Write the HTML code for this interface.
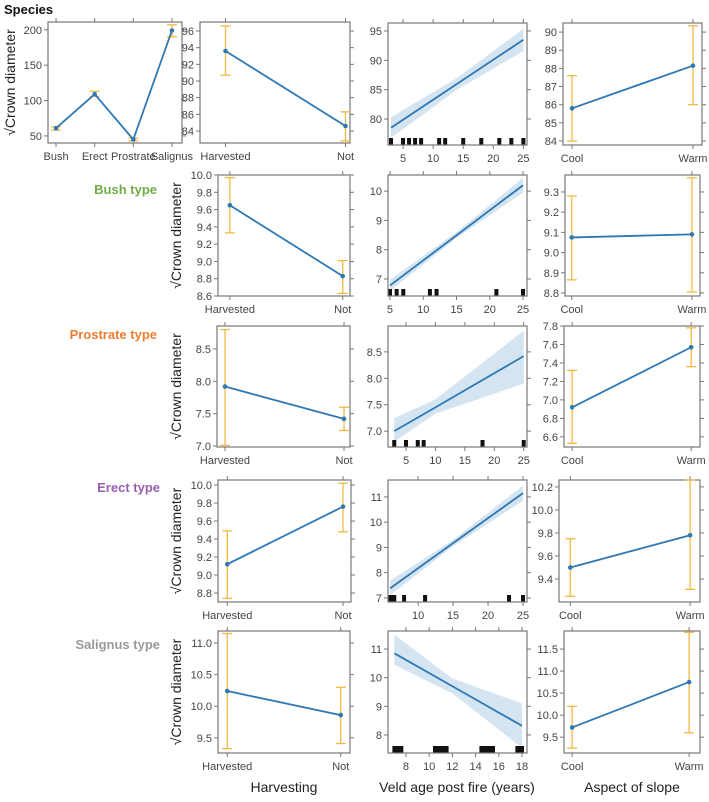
<!DOCTYPE html>
<html><head><meta charset="utf-8">
<style>
body{margin:0;background:#fff;}
svg text{font-family:"Liberation Sans",Arial,sans-serif;}
</style></head>
<body>
<svg id="chart" width="709" height="797" viewBox="0 0 709 797" xmlns="http://www.w3.org/2000/svg">
<text x="4" y="14" font-size="13" font-weight="bold" fill="#111">Species</text>
<text x="157" y="194" font-size="13" font-weight="bold" fill="#70ad47" text-anchor="end">Bush type</text>
<text x="157" y="339" font-size="13" font-weight="bold" fill="#ed7d31" text-anchor="end">Prostrate type</text>
<text x="160" y="492" font-size="13" font-weight="bold" fill="#9b5fb0" text-anchor="end">Erect type</text>
<text x="160" y="649" font-size="13" font-weight="bold" fill="#999" text-anchor="end">Salignus type</text>
<text x="284" y="792" font-size="14" fill="#222" text-anchor="middle">Harvesting</text>
<text x="457" y="792" font-size="14" fill="#222" text-anchor="middle">Veld age post fire (years)</text>
<text x="632" y="792" font-size="14" fill="#222" text-anchor="middle">Aspect of slope</text>
</svg>
<script>
// ---- data ----
const speciesCats = ["Bush","Erect","Prostrate","Salignus"];
const speciesFit = [61,109,45,199];
const speciesLo = [58,106,43,190];
const speciesHi = [63,113,47,207];
const speciesTicks = [50,100,150,200];

const harvCats = ["Harvested","Not"];
const aspectCats = ["Cool","Warm"];

const allHarvFit = [93.6,84.6]; const allHarvLo = [90.7,82.8]; const allHarvHi = [96.6,86.3];
const allHarvTicks = [84,86,88,90,92,94,96];
const allVeldX = [3,14,25]; const allVeldFit = [78.5,86,93.5]; const allVeldLo = [76.8,85,91.6]; const allVeldHi = [80.3,87,95.4];
const allVeldRug = [3,5,6,7,8,11,12,15,18,21,23,25];
const allVeldTicks = [80,85,90,95]; const allVeldXTicks = [5,10,15,20,25];
const allAspFit = [85.8,88.15]; const allAspLo = [84,86]; const allAspHi = [87.6,90.35];
const allAspTicks = [84,85,86,87,88,89,90];

const bushHarvFit = [9.65,8.83]; const bushHarvLo = [9.33,8.63]; const bushHarvHi = [9.97,9.01];
const bushHarvTicks = [8.6,8.8,9.0,9.2,9.4,9.6,9.8,10.0];
const bushVeldX = [5,15,25]; const bushVeldFit = [6.78,8.49,10.2]; const bushVeldLo = [6.6,8.4,9.95]; const bushVeldHi = [6.98,8.6,10.45];
const bushVeldRug = [5,6,7,11,12,21,25];
const bushVeldTicks = [7,8,9,10]; const bushVeldXTicks = [5,10,15,20,25];
const bushAspFit = [9.075,9.09]; const bushAspLo = [8.865,8.805]; const bushAspHi = [9.28,9.37];
const bushAspTicks = [8.8,8.9,9.0,9.1,9.2,9.3];

const prosHarvFit = [7.92,7.42]; const prosHarvLo = [7.01,7.24]; const prosHarvHi = [8.8,7.6];
const prosHarvTicks = [7.0,7.5,8.0,8.5];
const prosVeldX = [3,10,25]; const prosVeldFit = [7.0,7.45,8.42]; const prosVeldLo = [6.8,7.33,7.9]; const prosVeldHi = [7.25,7.6,8.9];
const prosVeldRug = [3,5,7,8,18,25];
const prosVeldTicks = [7.0,7.5,8.0,8.5]; const prosVeldXTicks = [5,10,15,20,25];
const prosAspFit = [6.92,7.57]; const prosAspLo = [6.53,7.36]; const prosAspHi = [7.32,7.78];
const prosAspTicks = [6.6,6.8,7.0,7.2,7.4,7.6,7.8];

const erHarvFit = [9.12,9.76]; const erHarvLo = [8.74,9.48]; const erHarvHi = [9.49,10.02];
const erHarvTicks = [8.8,9.0,9.2,9.4,9.6,9.8,10.0];
const erVeldX = [6,15,25]; const erVeldFit = [7.38,9.17,11.15]; const erVeldLo = [7.1,9.05,10.85]; const erVeldHi = [7.68,9.3,11.45];
const erVeldRug = [6,6.3,6.6,8,11,23,25];
const erVeldTicks = [7,8,9,10,11]; const erVeldXTicks = [10,15,20,25];
const erAspFit = [9.5,9.78]; const erAspLo = [9.25,9.31]; const erAspHi = [9.75,10.26];
const erAspTicks = [9.4,9.6,9.8,10.0,10.2];

const salHarvFit = [10.24,9.86]; const salHarvLo = [9.33,9.41]; const salHarvHi = [11.15,10.3];
const salHarvTicks = [9.5,10.0,10.5,11.0];
const salVeldX = [7,12,18]; const salVeldFit = [10.85,9.70,8.32]; const salVeldLo = [10.45,9.45,7.55]; const salVeldHi = [11.5,9.97,9.1];
const salVeldRug = [7,7.2,7.4,7.6,10.5,10.7,10.9,11.1,11.3,11.5,14.5,14.7,14.9,15.1,15.3,15.5,17.6,17.8,18];
const salVeldTicks = [8,9,10,11]; const salVeldXTicks = [8,10,12,14,16,18];
const salAspFit = [9.72,10.75]; const salAspLo = [9.25,9.6]; const salAspHi = [10.2,11.88];
const salAspTicks = [9.5,10.0,10.5,11.0,11.5];

// ---- drawing ----
const svg = document.getElementById('chart');
const NS = 'http://www.w3.org/2000/svg';
function mk(tag, attrs, parent){
  const e = document.createElementNS(NS, tag);
  for (const k in attrs) e.setAttribute(k, attrs[k]);
  (parent||svg).appendChild(e);
  return e;
}
function fmt(v, dec){ return dec ? v.toFixed(dec) : String(v); }

function frame(g, p, yScale, yTicks, dec){
  const box = mk('rect',{x:p.x0,y:p.y0,width:p.x1-p.x0,height:p.y1-p.y0,fill:'none',stroke:'#777','stroke-width':1.2},g);
  
  
  yTicks.forEach(t=>{
    const y = yScale(t);
    mk('line',{x1:p.x0-4,x2:p.x0,y1:y,y2:y,stroke:'#777'},g);
    mk('line',{x1:p.x1,x2:p.x1+4,y1:y,y2:y,stroke:'#777'},g);
    const tx = mk('text',{x:p.x0-6,y:y+4,'font-size':11,fill:'#444','text-anchor':'end'},g);
    tx.textContent = fmt(t,dec);
    
    
  });
}
function xTicksDraw(g, p, positions, labels){
  positions.forEach((x,i)=>{
    mk('line',{x1:x,x2:x,y1:p.y1,y2:p.y1+4,stroke:'#777'},g);
    mk('line',{x1:x,x2:x,y1:p.y0-4,y2:p.y0,stroke:'#777'},g);
    const tx = mk('text',{x:x,y:p.y1+17,'font-size':11,fill:'#444','text-anchor':'middle'},g);
    tx.textContent = labels[i];
    
    
  });
}
function yLabel(x, p){
  const cy = (p.y0+p.y1)/2;
  const t = mk('text',{x:x,y:cy,'font-size':14,fill:'#222','text-anchor':'middle',transform:`rotate(-90 ${x} ${cy})`});
  t.textContent = '\u221ACrown diameter';
  
  
}

function factorPanel(name, p, cats, fit, lo, hi, ticks, dec, ymin, ymax, padL, padR){
  const g = mk('g',{});
  
  
  const w = p.x1-p.x0, n = cats.length;
  const xs = i => p.x0 + w*(padL + (1-padL-padR)*i/(n-1));
  const ys = v => p.y1 - (v-ymin)/(ymax-ymin)*(p.y1-p.y0);
  frame(g,p,ys,ticks,dec);
  xTicksDraw(g,p,cats.map((c,i)=>xs(i)),cats);
  cats.forEach((c,i)=>{
    const x = xs(i);
    const eb = mk('g',{stroke:'#f2b845','stroke-width':1.3},g);
    
    
    mk('line',{x1:x,x2:x,y1:ys(lo[i]),y2:ys(hi[i])},eb);
    mk('line',{x1:x-5,x2:x+5,y1:ys(lo[i]),y2:ys(lo[i])},eb);
    mk('line',{x1:x-5,x2:x+5,y1:ys(hi[i]),y2:ys(hi[i])},eb);
  });
  const line = mk('polyline',{points:fit.map((v,i)=>xs(i)+','+ys(v)).join(' '),fill:'none',stroke:'#2e78b4','stroke-width':1.8},g);
  
  
  fit.forEach((v,i)=>{
    const c = mk('circle',{cx:xs(i),cy:ys(v),r:2.3,fill:'#2e78b4'},g);
    
    
  });
}

function veldPanel(name, p, xv, fit, lo, hi, rug, ticks, xticks, dec, xmin, xmax, ymin, ymax){
  const g = mk('g',{});
  
  
  const xs = v => p.x0 + (v-xmin)/(xmax-xmin)*(p.x1-p.x0);
  const ys = v => p.y1 - (v-ymin)/(ymax-ymin)*(p.y1-p.y0);
  const band = mk('polygon',{points: xv.map((x,i)=>xs(x)+','+ys(hi[i])).concat(xv.slice().reverse().map((x,j)=>{const i=xv.length-1-j;return xs(x)+','+ys(lo[i]);})).join(' '),fill:'#cfe1f0',opacity:0.9},g);
  
  
  const line = mk('polyline',{points:xv.map((x,i)=>xs(x)+','+ys(fit[i])).join(' '),fill:'none',stroke:'#2e78b4','stroke-width':1.8},g);
  
  
  rug.forEach(r=>{
    const rr = mk('rect',{x:xs(r)-2,y:p.y1-7,width:4,height:7,fill:'#111'},g);
    
    
  });
  frame(g,p,ys,ticks,dec);
  xTicksDraw(g,p,xticks.map(xs),xticks.map(String));
}

// Row 1
factorPanel('species-panel',{x0:48,x1:182,y0:22,y1:143},speciesCats,speciesFit,speciesLo,speciesHi,speciesTicks,0,40,211,0.06,0.075);
yLabel(15,{y0:22,y1:143});
factorPanel('all-harvesting-panel',{x0:200,x1:350,y0:22,y1:143},harvCats,allHarvFit,allHarvLo,allHarvHi,allHarvTicks,0,82.56,97.08,0.17,0.03);
veldPanel('all-veld-panel',{x0:388,x1:527,y0:23,y1:145},allVeldX,allVeldFit,allVeldLo,allVeldHi,allVeldRug,allVeldTicks,allVeldXTicks,0,2.5,25.6,75.57,96.36);
factorPanel('all-aspect-panel',{x0:563,x1:702,y0:23,y1:145},aspectCats,allAspFit,allAspLo,allAspHi,allAspTicks,0,83.78,90.5,0.065,0.065);
// Row 2
factorPanel('bush-harvesting-panel',{x0:218,x1:350,y0:175,y1:296},harvCats,bushHarvFit,bushHarvLo,bushHarvHi,bushHarvTicks,1,8.6,10.0,0.09,0.055);
yLabel(181,{y0:175,y1:296});
veldPanel('bush-veld-panel',{x0:388,x1:527,y0:175,y1:296},bushVeldX,bushVeldFit,bushVeldLo,bushVeldHi,bushVeldRug,bushVeldTicks,bushVeldXTicks,0,4.7,25.6,6.42,10.55);
factorPanel('bush-aspect-panel',{x0:565,x1:700,y0:175,y1:296},aspectCats,bushAspFit,bushAspLo,bushAspHi,bushAspTicks,1,8.785,9.384,0.05,0.06);
// Row 3
factorPanel('prostrate-harvesting-panel',{x0:217,x1:350,y0:326,y1:447},harvCats,prosHarvFit,prosHarvLo,prosHarvHi,prosHarvTicks,1,6.985,8.855,0.06,0.045);
yLabel(181,{y0:326,y1:447});
veldPanel('prostrate-veld-panel',{x0:388,x1:527,y0:326,y1:447},prosVeldX,prosVeldFit,prosVeldLo,prosVeldHi,prosVeldRug,prosVeldTicks,prosVeldXTicks,1,1.94,25.56,6.70,8.99);
factorPanel('prostrate-aspect-panel',{x0:564,x1:700,y0:326,y1:447},aspectCats,prosAspFit,prosAspLo,prosAspHi,prosAspTicks,1,6.49,7.8,0.06,0.065);
// Row 4
factorPanel('erect-harvesting-panel',{x0:218,x1:351,y0:480,y1:602},harvCats,erHarvFit,erHarvLo,erHarvHi,erHarvTicks,1,8.7,10.056,0.07,0.06);
yLabel(181,{y0:480,y1:602});
veldPanel('erect-veld-panel',{x0:388,x1:527,y0:480,y1:602},erVeldX,erVeldFit,erVeldLo,erVeldHi,erVeldRug,erVeldTicks,erVeldXTicks,0,5.7,25.57,6.84,11.67);
factorPanel('erect-aspect-panel',{x0:559,x1:700,y0:480,y1:602},aspectCats,erAspFit,erAspLo,erAspHi,erAspTicks,1,9.2,10.26,0.08,0.07);
// Row 5
factorPanel('salignus-harvesting-panel',{x0:218,x1:350,y0:631,y1:753},harvCats,salHarvFit,salHarvLo,salHarvHi,salHarvTicks,1,9.26,11.19,0.07,0.07);
yLabel(181,{y0:631,y1:753});
veldPanel('salignus-veld-panel',{x0:388,x1:527,y0:631,y1:753},salVeldX,salVeldFit,salVeldLo,salVeldHi,salVeldRug,salVeldTicks,salVeldXTicks,0,6.45,18.43,7.37,11.63);
factorPanel('salignus-aspect-panel',{x0:564,x1:700,y0:631,y1:753},aspectCats,salAspFit,salAspLo,salAspHi,salAspTicks,1,9.14,11.91,0.06,0.08);
</script>
</body></html>
